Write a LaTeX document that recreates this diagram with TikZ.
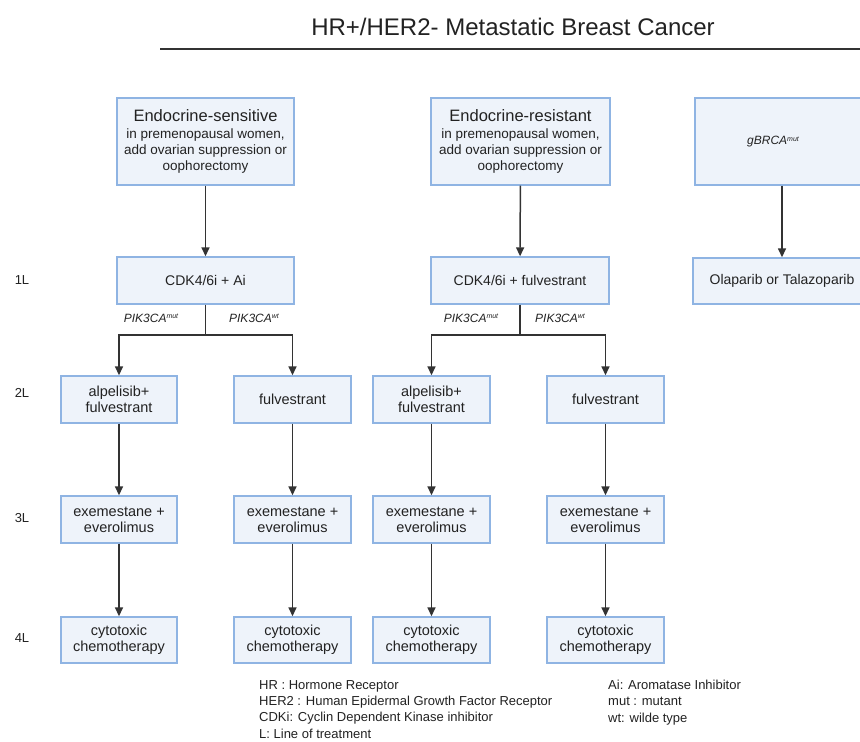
\documentclass[tikz,border=0pt]{standalone}
\usepackage{fontspec}
\setmainfont{Liberation Sans}
\usetikzlibrary{arrows.meta}
\definecolor{boxfill}{HTML}{EEF3FA}
\definecolor{boxline}{HTML}{8FB4E3}
\definecolor{ink}{HTML}{222222}
\definecolor{arrowc}{HTML}{333333}
\tikzset{
  box/.style={draw=boxline, line width=1.4pt, fill=boxfill, align=center, inner sep=2pt, text=ink, font=\fontsize{14.5}{16}\selectfont},
  arr/.style={draw=arrowc, line width=1.5pt, -{Triangle[length=9pt,width=8pt]}},
  ln/.style={draw=arrowc, line width=1.5pt},
  rowlab/.style={text=ink, font=\fontsize{13}{15}\selectfont},
  brlab/.style={text=ink, font=\fontsize{12}{14}\selectfont\itshape},
  legend/.style={text=ink, font=\fontsize{13}{16.3}\selectfont, align=left, anchor=north west, inner sep=0pt},
}
\newcommand{\supx}[1]{\raisebox{0.5ex}{\fontsize{7}{8}\selectfont #1}}
\begin{document}
\begin{tikzpicture}[x=1pt, y=-1pt]
\useasboundingbox (0,0) rectangle (860,742);
\clip (0,0) rectangle (860,742);
\fill[white] (0,0) rectangle (860,742);

% title
\node[text=ink, font=\fontsize{24}{28}\selectfont] (title) at (513,27) {HR+/HER2- Metastatic Breast Cancer};
\coordinate (tl) at (160,49);
\coordinate (tr) at (860,49);
\draw[draw=arrowc, line width=2pt] (tl) -- (tr);

% top boxes
\node[box, minimum width=177pt, minimum height=87pt] (topA) at (205.5,141.5)
 {{\fontsize{16.5}{19}\selectfont Endocrine-sensitive}\\[1pt]
  {\fontsize{13.5}{14}\selectfont in premenopausal women,}\\[0pt]
  {\fontsize{13.5}{14}\selectfont add ovarian suppression or}\\[0pt]
  {\fontsize{13.5}{14}\selectfont oophorectomy}};
\node[box, minimum width=179pt, minimum height=87pt] (topB) at (520.5,141.5)
 {{\fontsize{16.5}{19}\selectfont Endocrine-resistant}\\[1pt]
  {\fontsize{13.5}{14}\selectfont in premenopausal women,}\\[0pt]
  {\fontsize{13.5}{14}\selectfont add ovarian suppression or}\\[0pt]
  {\fontsize{13.5}{14}\selectfont oophorectomy}};
\node[box, minimum width=176pt, minimum height=87pt] (topC) at (783,141.5)
 {{\fontsize{12}{14}\selectfont\itshape gBRCA\supx{mut}}\hspace*{20pt}};

% 1L
\node[box, font=\fontsize{14}{16}\selectfont, minimum width=177pt, minimum height=47pt] (cdkA) at (205.5,280.5) {CDK4/6i + Ai};
\node[box, font=\fontsize{14}{16}\selectfont, minimum width=178pt, minimum height=47pt] (cdkB) at (520,280.5) {CDK4/6i + fulvestrant};
\node[box, font=\fontsize{14}{16}\selectfont, minimum width=178pt, minimum height=46pt] (ola) at (782,281) {Olaparib or Talazoparib};

% 2L
\node[box, minimum width=116pt, minimum height=47pt] (r2a) at (119,399.5) {alpelisib+\\fulvestrant};
\node[box, minimum width=117pt, minimum height=47pt] (r2b) at (292.5,399.5) {fulvestrant};
\node[box, minimum width=117pt, minimum height=47pt] (r2c) at (431.5,399.5) {alpelisib+\\fulvestrant};
\node[box, minimum width=117pt, minimum height=47pt] (r2d) at (605.5,399.5) {fulvestrant};

% 3L
\node[box, minimum width=116pt, minimum height=47pt] (r3a) at (119,519.5) {exemestane +\\everolimus};
\node[box, minimum width=117pt, minimum height=47pt] (r3b) at (292.5,519.5) {exemestane +\\everolimus};
\node[box, minimum width=117pt, minimum height=47pt] (r3c) at (431.5,519.5) {exemestane +\\everolimus};
\node[box, minimum width=117pt, minimum height=47pt] (r3d) at (605.5,519.5) {exemestane +\\everolimus};

% 4L
\node[box, minimum width=116pt, minimum height=46pt] (r4a) at (119,640) {cytotoxic\\chemotherapy};
\node[box, minimum width=117pt, minimum height=46pt] (r4b) at (292.5,640) {cytotoxic\\chemotherapy};
\node[box, minimum width=117pt, minimum height=46pt] (r4c) at (431.5,640) {cytotoxic\\chemotherapy};
\node[box, minimum width=117pt, minimum height=46pt] (r4d) at (605.5,640) {cytotoxic\\chemotherapy};

% row labels
\node[rowlab] (l1) at (22,280) {1L};
\node[rowlab] (l2) at (22,393) {2L};
\node[rowlab] (l3) at (22,518) {3L};
\node[rowlab] (l4) at (22,638) {4L};

% arrows top -> 1L
\draw[arr] (topA) -- (cdkA);
\draw[arr] (topB) -- (cdkB);
\draw[arr] (topC.south -| ola) -- (ola);

% branches
\coordinate (jA) at (205.5,335);
\coordinate (jB) at (520,335);
\draw[ln] (cdkA.south) -- (jA);
\draw[arr] (jA) -| (r2a.north);
\draw[arr] (jA) -| (r2b.north);
\draw[ln] (cdkB.south) -- (jB);
\draw[arr] (jB) -| (r2c.north);
\draw[arr] (jB) -| (r2d.north);

\node[brlab] (pa1) at (151,318) {PIK3CA\supx{mut}};
\node[brlab] (pa2) at (254,318) {PIK3CA\supx{wt}};
\node[brlab] (pb1) at (471,318) {PIK3CA\supx{mut}};
\node[brlab] (pb2) at (560,318) {PIK3CA\supx{wt}};

% vertical chains
\foreach \c in {a,b,c,d}{
  \draw[arr] (r2\c) -- (r3\c);
  \draw[arr] (r3\c) -- (r4\c);
}

% legend
\node[legend] (leg1) at (259,680) {HR : Hormone Receptor\\
HER2 : Human Epidermal Growth Factor Receptor\\
CDKi: Cyclin Dependent Kinase inhibitor\\
L: Line of treatment};
\node[legend] (leg2) at (608,680) {Ai: Aromatase Inhibitor\\
mut : mutant\\
wt: wilde type};
\end{tikzpicture}
\end{document}
